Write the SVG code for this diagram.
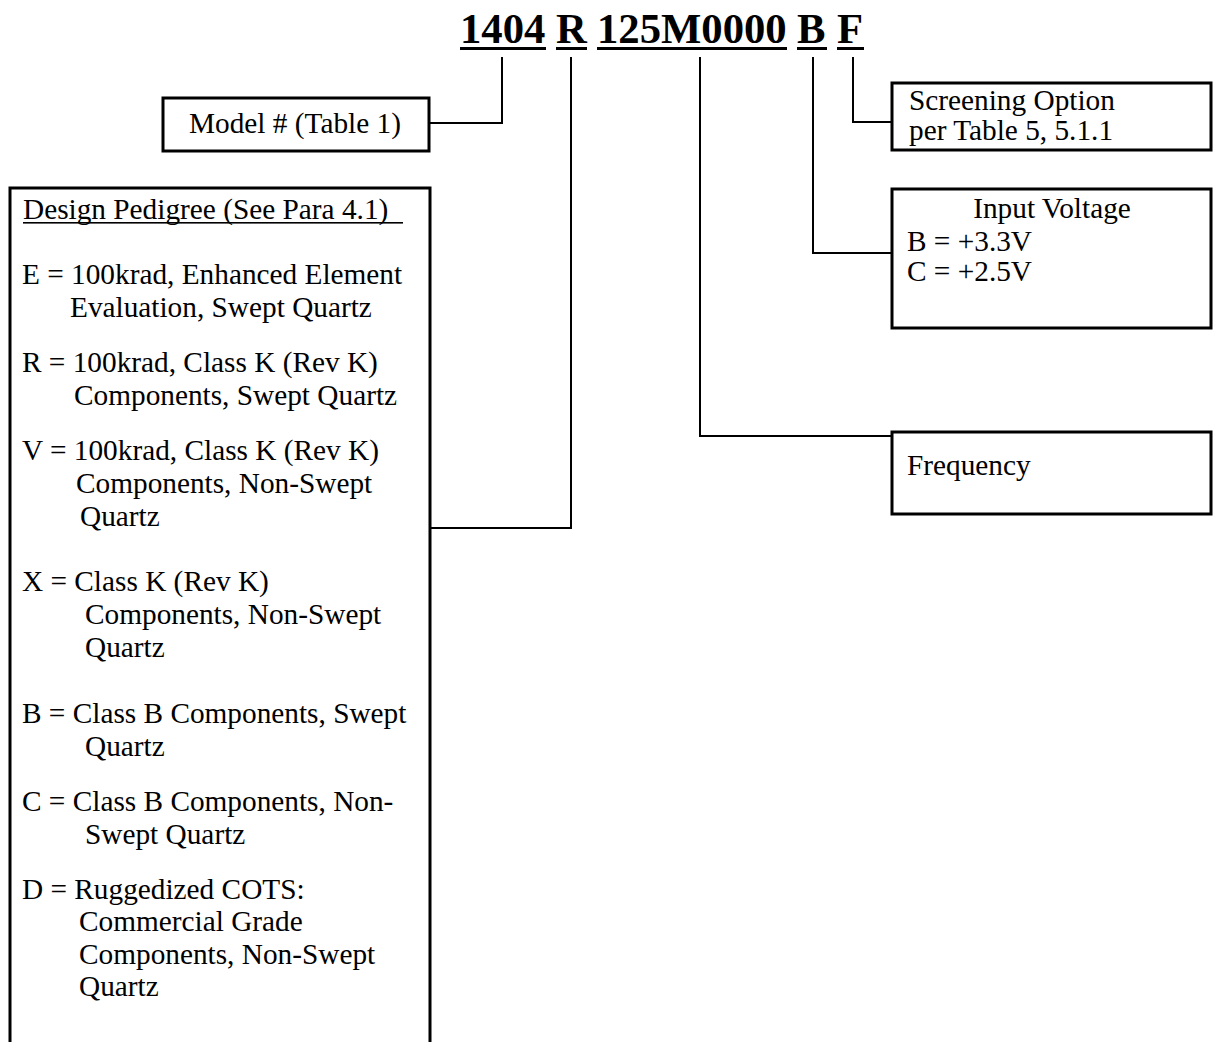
<svg xmlns="http://www.w3.org/2000/svg" width="1213" height="1042" viewBox="0 0 1213 1042">
<style>
.t{font-family:"Liberation Serif","Times New Roman",serif;font-size:29.3px;fill:#000}
.h{font-family:"Liberation Serif","Times New Roman",serif;font-size:42.7px;font-weight:bold;fill:#000}
.box{fill:#fff;stroke:#000;stroke-width:3}
.c{fill:none;stroke:#000;stroke-width:2}
</style>
<rect width="1213" height="1042" fill="#fff"/>
<g id="title">
<text class="h" x="460" y="43">1404</text>
<text class="h" x="556" y="43">R</text>
<text class="h" x="597" y="43">125M0000</text>
<text class="h" x="797" y="43">B</text>
<text class="h" x="837" y="43">F</text>
<rect x="460" y="47" width="86" height="3"/>
<rect x="556" y="47" width="31" height="3"/>
<rect x="597" y="47" width="190" height="3"/>
<rect x="797" y="47" width="30" height="3"/>
<rect x="837" y="47" width="27" height="3"/>
</g>
<g id="connectors">
<polyline class="c" points="502,57 502,123 430,123"/>
<polyline class="c" points="571,57 571,528 431,528"/>
<polyline class="c" points="700,57 700,436 892,436"/>
<polyline class="c" points="813,57 813,253 892,253"/>
<polyline class="c" points="853,57 853,122 892,122"/>
</g>
<g id="model">
<rect class="box" x="163" y="98" width="266" height="53"/>
<text class="t" x="189" y="133">Model # (Table 1)</text>
</g>
<g id="screening">
<rect class="box" x="892" y="83" width="319" height="67"/>
<text class="t" x="909" y="110">Screening Option</text>
<text class="t" x="909" y="140">per Table 5, 5.1.1</text>
</g>
<g id="voltage">
<rect class="box" x="892" y="189" width="319" height="139"/>
<text class="t" x="1052" y="218" text-anchor="middle">Input Voltage</text>
<text class="t" x="907" y="251">B = +3.3V</text>
<text class="t" x="907" y="281">C = +2.5V</text>
</g>
<g id="frequency">
<rect class="box" x="892" y="432" width="319" height="82"/>
<text class="t" x="907" y="475">Frequency</text>
</g>
<g id="pedigree">
<path class="box" d="M10,1045 V188 H430 V1045"/>
<text class="t" x="23" y="219">Design Pedigree (See Para 4.1)</text>
<rect x="23" y="222" width="380" height="1.6"/>
<text class="t" x="22" y="284">E = 100krad, Enhanced Element</text>
<text class="t" x="70" y="317">Evaluation, Swept Quartz</text>
<text class="t" x="22" y="372">R = 100krad, Class K (Rev K)</text>
<text class="t" x="74" y="405">Components, Swept Quartz</text>
<text class="t" x="22" y="460">V = 100krad, Class K (Rev K)</text>
<text class="t" x="76" y="493">Components, Non-Swept</text>
<text class="t" x="80" y="526">Quartz</text>
<text class="t" x="22" y="591">X = Class K (Rev K)</text>
<text class="t" x="85" y="624">Components, Non-Swept</text>
<text class="t" x="85" y="657">Quartz</text>
<text class="t" x="22" y="723">B = Class B Components, Swept</text>
<text class="t" x="85" y="756">Quartz</text>
<text class="t" x="22" y="811">C = Class B Components, Non-</text>
<text class="t" x="85" y="844">Swept Quartz</text>
<text class="t" x="22" y="899">D = Ruggedized COTS:</text>
<text class="t" x="79" y="931">Commercial Grade</text>
<text class="t" x="79" y="964">Components, Non-Swept</text>
<text class="t" x="79" y="996">Quartz</text>
</g>
</svg>
